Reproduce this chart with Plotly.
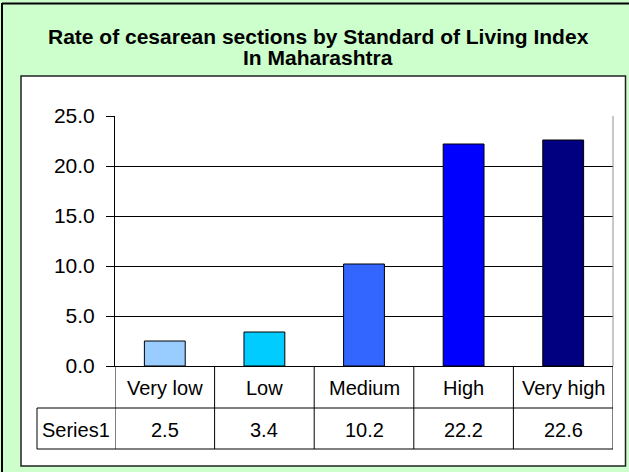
import plotly.graph_objects as go

categories = ["Very low", "Low", "Medium", "High", "Very high"]
values = [2.5, 3.4, 10.2, 22.2, 22.6]
series_name = "Series1"
bar_colors = ["#99CCFF", "#00CCFF", "#3366FF", "#0000FF", "#000080"]
title_lines = ["Rate of cesarean sections by Standard of Living Index", "In Maharashtra"]
y_ticks = [0, 5, 10, 15, 20, 25]

W, H = 629, 472
PL, PR, PT, PB = 115, 613, 116, 366  # plot area in pixels
FONT = "Liberation Sans, Arial, sans-serif"


def px_x(px):
    return (px - PL) / (PR - PL)


def px_y(py):
    return (PB - py) / (PB - PT)


fig = go.Figure(
    go.Bar(
        x=categories,
        y=values,
        width=0.41,
        marker=dict(color=bar_colors, line=dict(color="black", width=1)),
        showlegend=False,
        hoverinfo="skip",
    )
)

shapes = []
# white inner box
shapes.append(dict(type="rect", xref="paper", yref="paper", x0=px_x(21), x1=px_x(625.5), y0=px_y(466), y1=px_y(76),
                   fillcolor="white", line=dict(color="#222", width=1.5), layer="below"))
# outer frame (left and top)
shapes.append(dict(type="line", xref="paper", yref="paper", x0=px_x(2), x1=px_x(2), y0=px_y(3), y1=px_y(472),
                   line=dict(color="black", width=2)))
shapes.append(dict(type="line", xref="paper", yref="paper", x0=px_x(2), x1=px_x(629), y0=px_y(3.5), y1=px_y(3.5),
                   line=dict(color="black", width=2)))
# plot area right edge
shapes.append(dict(type="line", xref="paper", yref="paper", x0=1, x1=1, y0=0, y1=1,
                   line=dict(color="#909090", width=1)))

row1_bot = px_y(408)
row2_bot = px_y(449)
# data table horizontal lines
shapes.append(dict(type="line", xref="paper", yref="paper", x0=px_x(37), x1=1, y0=row1_bot, y1=row1_bot,
                   line=dict(color="black", width=1)))
shapes.append(dict(type="line", xref="paper", yref="paper", x0=px_x(37), x1=1, y0=row2_bot, y1=row2_bot,
                   line=dict(color="black", width=1)))
shapes.append(dict(type="line", xref="paper", yref="paper", x0=px_x(37), x1=px_x(37), y0=row1_bot, y1=row2_bot,
                   line=dict(color="black", width=1)))
# vertical column separators at category boundaries
for i in range(len(categories) + 1):
    shapes.append(dict(type="line", xref="x", yref="paper", x0=i - 0.5, x1=i - 0.5, y0=0, y1=row2_bot,
                       line=dict(color="black", width=1)))

annotations = []
for i, (c, v) in enumerate(zip(categories, values)):
    annotations.append(dict(x=c, xref="x", y=px_y(388), yref="paper", text=c, showarrow=False,
                            xanchor="center", yanchor="middle", font=dict(family=FONT, size=20, color="black")))
    annotations.append(dict(x=c, xref="x", y=px_y(430), yref="paper", text=f"{v:.1f}", showarrow=False,
                            xanchor="center", yanchor="middle", font=dict(family=FONT, size=20, color="black")))
annotations.append(dict(x=px_x(76), xref="paper", y=px_y(430), yref="paper", text=series_name, showarrow=False,
                        xanchor="center", yanchor="middle", font=dict(family=FONT, size=20, color="black")))
annotations.append(dict(x=px_x(318), xref="paper", y=px_y(37), yref="paper", text=f"<b>{title_lines[0]}</b>",
                        showarrow=False, xanchor="center", yanchor="middle",
                        font=dict(family=FONT, size=21, color="black")))
annotations.append(dict(x=px_x(318), xref="paper", y=px_y(57.5), yref="paper", text=f"<b>{title_lines[1]}</b>",
                        showarrow=False, xanchor="center", yanchor="middle",
                        font=dict(family=FONT, size=21, color="black")))

fig.update_layout(
    width=W,
    height=H,
    margin=dict(l=PL, r=W - PR, t=PT, b=H - PB, pad=0),
    paper_bgcolor="#CCFFCC",
    plot_bgcolor="#C0C0C0",
    shapes=shapes,
    annotations=annotations,
    bargap=0.59,
    hovermode=False,
    xaxis=dict(range=[-0.5, 4.5], showticklabels=False, showgrid=False, zeroline=False,
               showline=True, linecolor="black", linewidth=1, ticks="", fixedrange=True),
    yaxis=dict(range=[0, 25], tickvals=y_ticks, tickformat=".1f", showgrid=True, gridcolor="black", gridwidth=1,
               zeroline=False, showline=True, linecolor="black", linewidth=1, ticks="outside", ticklen=8,
               tickcolor="black", ticklabelstandoff=7, fixedrange=True,
               tickfont=dict(family=FONT, size=21, color="black")),
)

fig.write_html("out.html", config={"displayModeBar": False},
               post_script="document.body.style.margin='0px';document.body.style.overflow='hidden';")
